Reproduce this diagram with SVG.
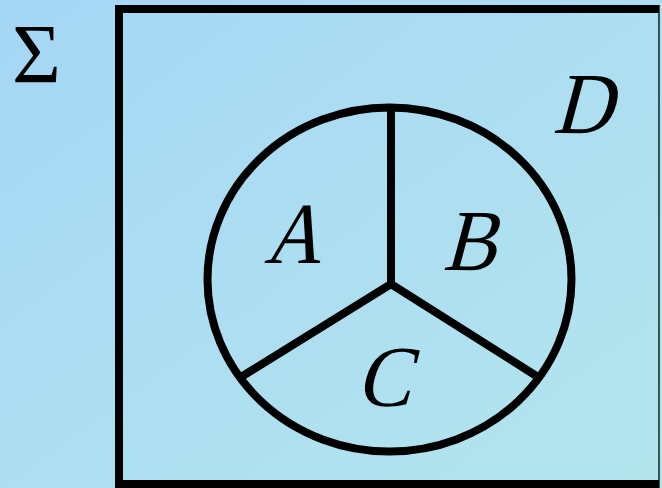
<svg xmlns="http://www.w3.org/2000/svg" width="662" height="488" viewBox="0 0 662 488">
  <defs>
    <linearGradient id="bg" x1="0" y1="0" x2="1" y2="1">
      <stop offset="0" stop-color="#a5d7f6"/>
      <stop offset="1" stop-color="#b4e5ed"/>
    </linearGradient>
    <style>
      .ln { fill: none; stroke: #000; stroke-width: 8; }
      .lbl { font-family: "Liberation Serif", "Times New Roman", serif; font-size: 87px; fill: #000; text-anchor: middle; }
      .sig { font-family: "Liberation Serif", "Times New Roman", serif; font-size: 84px; fill: #000; }
    </style>
  </defs>
  <rect x="0" y="0" width="662" height="488" fill="url(#bg)"/>
  <g id="sigma">
    <text class="sig" x="12" y="83">Σ</text>
  </g>
  <g id="D">
    <path class="ln" d="M659 9 H119 V484 H659"/>
    <line x1="659" y1="5" x2="659" y2="488" stroke="#000" stroke-width="1.3"/>
    <text class="lbl" transform="translate(582 133) skewX(-15) scale(0.95 1)">D</text>
  </g>
  <g id="circle">
    <ellipse class="ln" cx="389.5" cy="279.5" rx="182" ry="172"/>
  </g>
  <g id="connectors">
    <path class="ln" d="M391 107 V284 M241 377 L391 284 L538 377"/>
  </g>
  <g id="A"><text class="lbl" transform="translate(292 263) skewX(-15) scale(0.9 1)">A</text></g>
  <g id="B"><text class="lbl" transform="translate(469 270) skewX(-15) scale(0.92 1)">B</text></g>
  <g id="C"><text class="lbl" transform="translate(383 406) skewX(-15) scale(0.95 1)">C</text></g>
</svg>
